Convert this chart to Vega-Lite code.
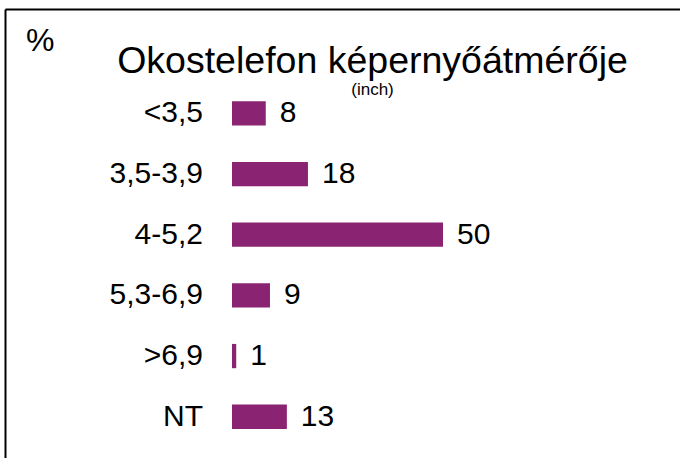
{
  "$schema": "https://vega.github.io/schema/vega-lite/v6.json",
  "width": 675,
  "height": 449,
  "autosize": "none",
  "padding": {"left": 5, "top": 9, "right": 0, "bottom": 0},
  "background": "white",
  "config": {"view": {"stroke": null}, "font": "Liberation Sans"},
  "title": {
    "text": "Okostelefon képernyőátmérője",
    "subtitle": "(inch)",
    "font": "Liberation Sans",
    "fontSize": 37.5,
    "fontWeight": "normal",
    "color": "black",
    "subtitleFont": "Liberation Sans",
    "subtitleFontSize": 17,
    "subtitleColor": "black",
    "subtitlePadding": 2,
    "anchor": "middle",
    "frame": "group",
    "orient": "top",
    "offset": -89,
    "dx": 30
  },
  "data": {
    "values": [
      {"size": "<3,5", "pct": 8},
      {"size": "3,5-3,9", "pct": 18},
      {"size": "4-5,2", "pct": 50},
      {"size": "5,3-6,9", "pct": 9},
      {"size": ">6,9", "pct": 1},
      {"size": "NT", "pct": 13}
    ]
  },
  "encoding": {
    "y": {
      "field": "size",
      "type": "nominal",
      "sort": null,
      "scale": {"type": "band", "paddingInner": 0.6, "paddingOuter": 1.0417, "align": 0.76},
      "axis": {
        "orient": "left",
        "domain": true,
        "domainColor": "black",
        "domainWidth": 2,
        "labels": false,
        "ticks": false,
        "grid": false,
        "title": "%",
        "titleAngle": 0,
        "titleX": 20.5,
        "titleY": 41,
        "titleAlign": "left",
        "titleBaseline": "alphabetic",
        "titleFont": "Liberation Sans",
        "titleFontSize": 32,
        "titleFontWeight": "normal",
        "titleColor": "black"
      }
    }
  },
  "layer": [
    {
      "mark": {"type": "bar", "color": "#8B2373"},
      "encoding": {
        "x": {
          "field": "pct",
          "type": "quantitative",
          "scale": {"domain": [-53.79, 106.16], "nice": false},
          "axis": {
            "orient": "top",
            "domain": true,
            "domainColor": "black",
            "domainWidth": 2,
            "labels": false,
            "ticks": false,
            "grid": false,
            "title": null
          }
        }
      }
    },
    {
      "mark": {"type": "text", "align": "left", "baseline": "middle", "dx": 14, "fontSize": 30, "color": "black", "font": "Liberation Sans"},
      "encoding": {
        "x": {"field": "pct", "type": "quantitative"},
        "text": {"field": "pct"}
      }
    },
    {
      "mark": {"type": "text", "align": "right", "baseline": "middle", "dx": -29, "fontSize": 30, "color": "black", "font": "Liberation Sans"},
      "encoding": {
        "x": {"datum": 0},
        "text": {"field": "size"}
      }
    }
  ]
}
